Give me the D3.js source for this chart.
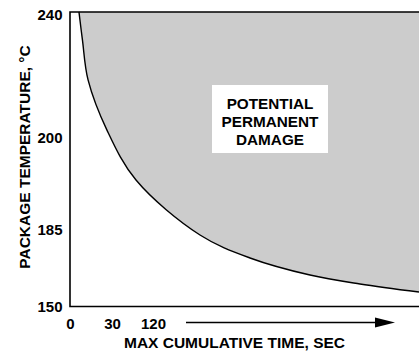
<!DOCTYPE html>
<html>
<head>
<meta charset="utf-8">
<script src="https://cdn.jsdelivr.net/npm/d3@7"></script>
<style>
  html, body { margin: 0; padding: 0; background: #fff; }
  svg { display: block; }
  text { font-family: "Liberation Sans", Arial, Helvetica, sans-serif; font-weight: bold; fill: #000; }
</style>
</head>
<body>
<svg id="chart" width="419" height="353"></svg>
<script>
// ---- data ----
const tempTicks = [150, 185, 200, 240];
const timeTicks = [0, 30, 120];
const curveTime = [6.4, 8.9, 12.9, 26.4, 82.7, 183.6, 251.3, 332.5, 400.1, 480];
const curveTemp = [241, 231.8, 218.8, 202.4, 193.1, 182.7, 172.2, 164.4, 160.3, 156.6];
const zoneLabel = ["POTENTIAL", "PERMANENT", "DAMAGE"];
const xTitle = "MAX CUMULATIVE TIME, SEC";
const yTitle = "PACKAGE TEMPERATURE, \u00B0C";

// ---- layout ----
const svg = d3.select("#chart");
const mLeft = 70, mRight = 419, mTop = 12, mBottom = 306.5;

// non-uniform (illustrative) axes -> piecewise linear scales
const x = d3.scaleLinear().domain([0, 30, 120, 480]).range([70, 112, 153, 419]);
const y = d3.scaleLinear().domain([150, 185, 200, 240]).range([306.5, 230, 137.5, 15]);

const pts = curveTime.map((t, i) => [t, curveTemp[i]]);
const crv = d3.curveCatmullRom.alpha(0.5);

// shaded damage area (above curve)
const area = d3.area()
  .x(d => x(d[0]))
  .y0(mTop)
  .y1(d => y(d[1]))
  .curve(crv);
svg.append("path").datum(pts).attr("d", area).attr("fill", "#cccccc");

// curve
const line = d3.line().x(d => x(d[0])).y(d => y(d[1])).curve(crv);
svg.append("path").datum(pts).attr("d", line)
  .attr("fill", "none").attr("stroke", "#000").attr("stroke-width", 1.4);

// frame
svg.append("path")
  .attr("d", `M${mRight},${mTop}H${mLeft}V${mBottom}H${mRight}`)
  .attr("fill", "none").attr("stroke", "#000").attr("stroke-width", 1.6);

// y axis labels
const yAxis = svg.append("g").attr("transform", `translate(${mLeft},0)`)
  .call(d3.axisLeft(y).tickValues(tempTicks).tickSize(0).tickPadding(7.5).tickFormat(d3.format("d")));
yAxis.select(".domain").remove();
yAxis.selectAll("text").attr("font-size", 15).attr("font-family", null).style("font-weight", "bold");

// x axis labels
const xAxis = svg.append("g").attr("transform", `translate(0,${mBottom})`)
  .call(d3.axisBottom(x).tickValues(timeTicks).tickSize(0).tickPadding(12).tickFormat(d3.format("d")));
xAxis.select(".domain").remove();
xAxis.selectAll("text").attr("font-size", 15).attr("font-family", null).style("font-weight", "bold");

// arrow
svg.append("line").attr("x1", 186).attr("x2", 380).attr("y1", 322.5).attr("y2", 322.5)
  .attr("stroke", "#000").attr("stroke-width", 1.6);
svg.append("path").attr("d", "M375,317.5L395,322.5L375,327.5Z").attr("fill", "#000");

// axis titles
svg.append("text").attr("x", 234.5).attr("y", 348).attr("text-anchor", "middle")
  .attr("font-size", 15.5).text(xTitle);
svg.append("text").attr("transform", "translate(30,157) rotate(-90)").attr("text-anchor", "middle")
  .attr("font-size", 15.5).text(yTitle);

// label box
svg.append("rect").attr("x", 212).attr("y", 85).attr("width", 116).attr("height", 68).attr("fill", "#fff");
svg.append("g").selectAll("text").data(zoneLabel).join("text")
  .attr("x", 270).attr("y", (d, i) => 108.5 + i * 18).attr("text-anchor", "middle")
  .attr("font-size", 15.3).text(d => d);
</script>
</body>
</html>
